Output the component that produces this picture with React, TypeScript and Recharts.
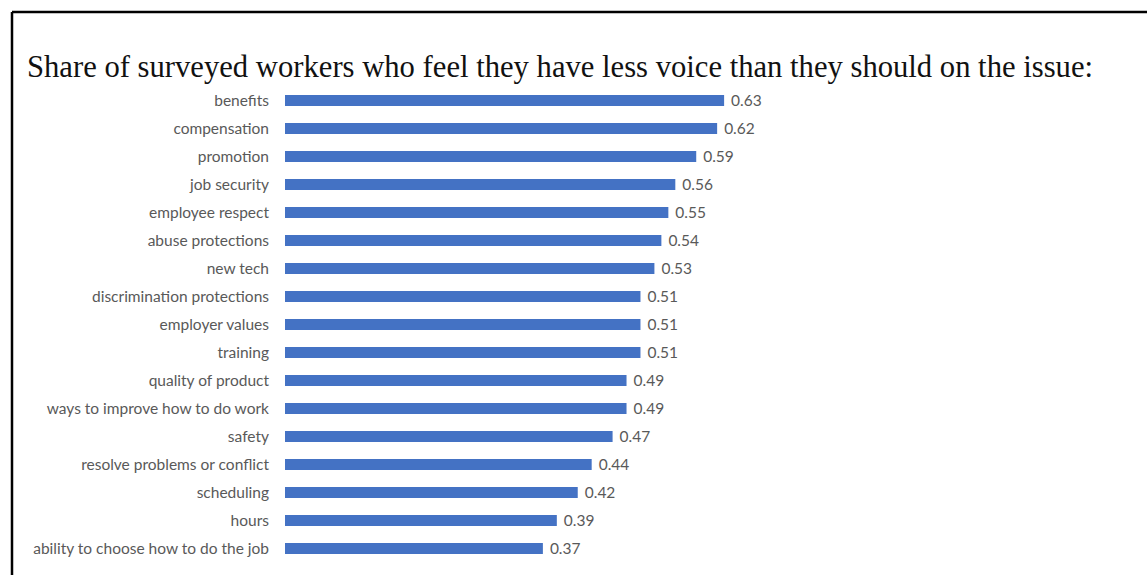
import { BarChart, Bar, XAxis, YAxis, LabelList } from 'recharts'

const categories = [
  'benefits',
  'compensation',
  'promotion',
  'job security',
  'employee respect',
  'abuse protections',
  'new tech',
  'discrimination protections',
  'employer values',
  'training',
  'quality of product',
  'ways to improve how to do work',
  'safety',
  'resolve problems or conflict',
  'scheduling',
  'hours',
  'ability to choose how to do the job',
]

const shares = [0.63, 0.62, 0.59, 0.56, 0.55, 0.54, 0.53, 0.51, 0.51, 0.51, 0.49, 0.49, 0.47, 0.44, 0.42, 0.39, 0.37]

const title = 'Share of surveyed workers who feel they have less voice than they should on the issue:'

const chartData = categories.map((name, i) => ({ name, share: shares[i] }))

const labelFont = 'Lato, "Open Sans", sans-serif'

export default function App() {
  return (
    <div
      style={{
        position: 'absolute',
        left: 0,
        top: 0,
        width: 1147,
        height: 575,
        background: '#fff',
        overflow: 'hidden',
      }}
    >
      <svg style={{ position: 'absolute', left: 0, top: 0 }} width={1147} height={575}>
        {/* frame: only the top and left edges fall inside the crop */}
        <line x1={12} y1={12} x2={1147} y2={12} stroke="#000" strokeWidth={2.5} />
        <line x1={12} y1={12} x2={12} y2={575} stroke="#000" strokeWidth={2.5} />
        <text
          x={27}
          y={77}
          fontFamily='"Liberation Serif", serif'
          fontSize={31}
          fill="#111"
          textLength={1066}
          lengthAdjust="spacingAndGlyphs"
        >
          {title}
        </text>
      </svg>
      <div style={{ position: 'absolute', left: 0, top: 0 }}>
        <BarChart
          width={1147}
          height={575}
          data={chartData}
          layout="vertical"
          margin={{ top: 86, right: 165, left: 0, bottom: 13 }}
        >
          <XAxis type="number" domain={[0, 1]} hide />
          <YAxis
            dataKey="name"
            type="category"
            width={285}
            axisLine={false}
            tickLine={false}
            tickSize={8}
            tickMargin={8}
            interval={0}
            tick={{ fontSize: 15.5, fill: '#595959', fontFamily: labelFont }}
          />
          <Bar dataKey="share" fill="#4472C4" barSize={11} isAnimationActive={false}>
            <LabelList
              dataKey="share"
              position="right"
              offset={7}
              style={{ fontSize: 15.5, fill: '#595959', fontFamily: labelFont }}
            />
          </Bar>
        </BarChart>
      </div>
    </div>
  )
}
